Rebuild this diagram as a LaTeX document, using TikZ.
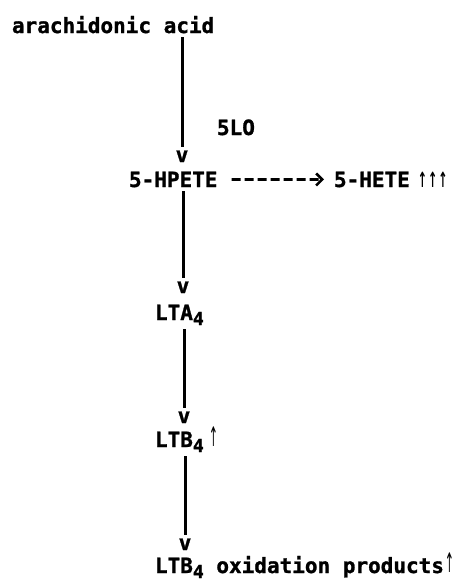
\documentclass[tikz,border=0pt]{standalone}
\usepackage{fontspec}
\usepackage{graphicx}
\usetikzlibrary{arrows.meta}
\newfontfamily\monofnt{DejaVu Sans Mono}[BoldFeatures={FakeBold=1.2}]
\newfontfamily\arrfnt{DejaVu Sans}
\newcommand{\subf}[1]{\raisebox{-5pt}{\fontsize{18}{18}\selectfont #1}}
\newcommand{\upa}{\scalebox{0.55}[1.05]{\arrfnt\bfseries\fontsize{20}{20}\selectfont ↑}}
\newcommand{\upb}{\raisebox{1pt}{\scalebox{0.55}[1.35]{\arrfnt\mdseries\fontsize{20}{20}\selectfont ↑}}}
\begin{document}
\begin{tikzpicture}[x=1pt,y=-1pt,
  lbl/.style={inner sep=0pt,outer sep=4pt,anchor=base west,
    font=\monofnt\bfseries\fontsize{21}{24}\selectfont},
  vtip/.style={lbl,anchor=base},
  conn/.style={line width=3pt},
  dashconn/.style={line width=2.8pt,dash pattern=on 9pt off 4pt,
    shorten <=10pt,shorten >=6pt,
    -{Straight Barb[length=6pt,width=12pt,line width=2.6pt]}}]
\useasboundingbox (0,0) rectangle (462,582);
\node[lbl] (aa) at (8,33) {arachidonic acid};
\node[lbl] (lo) at (213,135) {5LO};
\node[vtip] (v1) at (182,162) {v};
\node[lbl] (hpete) at (125,187) {5-HPETE};
\node[lbl] (hete) at (330,187) {5-HETE\kern8pt\upa\kern1pt\upa\kern1pt\upa};
\node[vtip] (v2) at (183,293) {v};
\node[lbl] (lta) at (151,320) {LTA\subf{4}};
\node[vtip] (v3) at (184,423) {v};
\node[lbl] (ltb) at (151,447) {LTB\subf{4}\kern5pt\upb};
\node[vtip] (v4) at (185,550) {v};
\node[lbl] (ox) at (151,573) {LTB\subf{4} oxidation products\kern1pt\upb};
\draw[conn] (v1.north |- aa.south) -- (v1.north);
\draw[conn] (v2.north |- hpete.south) -- (v2.north);
\draw[conn] (v3.north |- lta.south) -- (v3.north);
\draw[conn] (v4.north |- ltb.south) -- (v4.north);
\draw[dashconn] (hpete.east) -- (hete.west);
\end{tikzpicture}
\end{document}
